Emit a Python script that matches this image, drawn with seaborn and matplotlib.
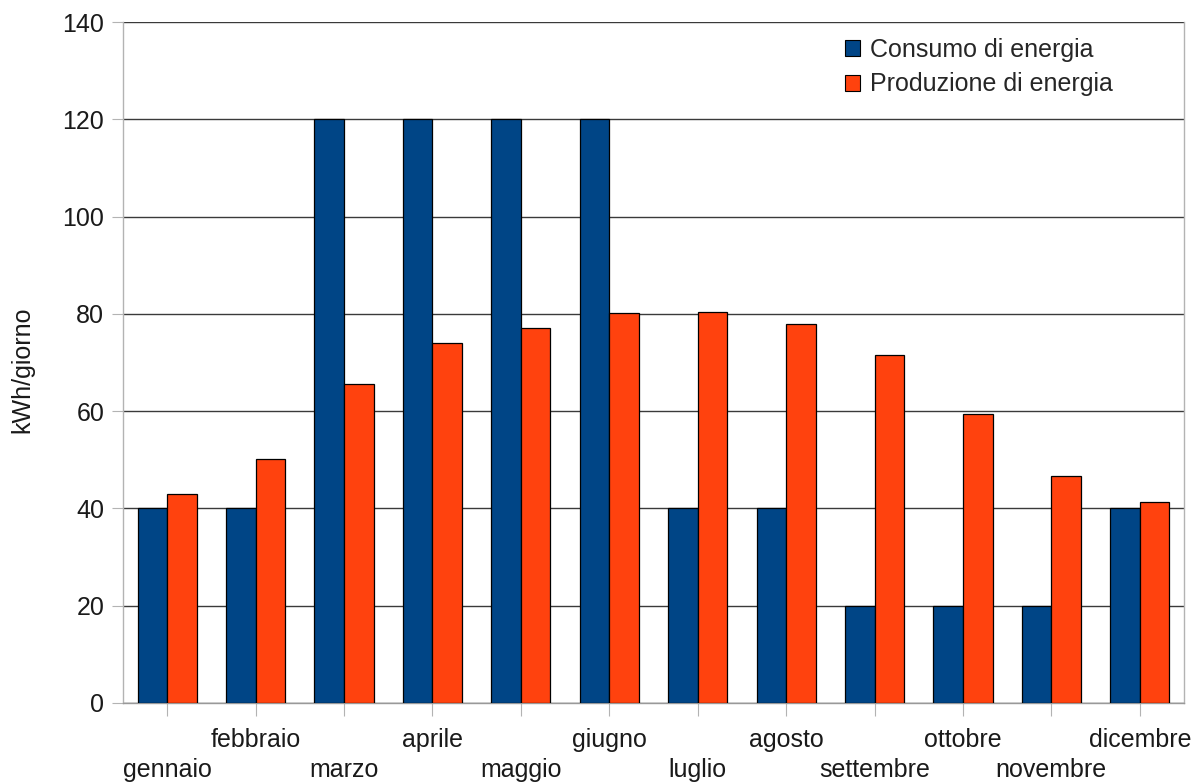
import matplotlib
matplotlib.use("Agg")
import matplotlib.pyplot as plt
import pandas as pd
import seaborn as sns

mesi = ["gennaio", "febbraio", "marzo", "aprile", "maggio", "giugno",
        "luglio", "agosto", "settembre", "ottobre", "novembre", "dicembre"]
consumo = [40, 40, 120, 120, 120, 120, 40, 40, 20, 20, 20, 40]
produzione = [43.0, 50.1, 65.5, 74.1, 77.0, 80.2, 80.4, 78.0, 71.6, 59.5, 46.6, 41.4]
serie = ["Consumo di energia", "Produzione di energia"]
colori = ["#004586", "#ff420e"]
y_ticks = [0, 20, 40, 60, 80, 100, 120, 140]

df = pd.DataFrame({
    "mese": mesi * 2,
    "valore": consumo + produzione,
    "serie": [serie[0]] * len(mesi) + [serie[1]] * len(mesi),
})

sns.set_theme(style="white")
plt.rcParams["font.family"] = ["Liberation Sans", "DejaVu Sans"]
FS = 18
TXT = "#1a1a1a"

fig = plt.figure(figsize=(11.96, 7.82), dpi=100)
ax = fig.add_axes([123 / 1196, 1 - 703 / 782, (1184 - 123) / 1196, (703 - 22) / 782])

sns.barplot(data=df, x="mese", y="valore", hue="serie", order=mesi,
            hue_order=serie, palette=colori, width=0.67, saturation=1,
            edgecolor="black", linewidth=0.9, ax=ax, zorder=3)

ax.set_xlim(-0.5, len(mesi) - 0.5)
ax.set_ylim(0, 140)
ax.set_yticks(y_ticks)
ax.set_yticklabels([str(v) for v in y_ticks], fontsize=FS, color=TXT)
ax.yaxis.grid(True, color="#3a3a3a", linewidth=1.0, zorder=1)
ax.xaxis.grid(False)
ax.set_axisbelow(True)

# month names on two staggered rows
ax.set_xticks(range(len(mesi)))
ax.set_xticklabels([])
for i, m in enumerate(mesi):
    y_off = -0.065 if i % 2 == 1 else -0.108
    ax.text(i, y_off, m, transform=ax.get_xaxis_transform(), ha="center",
            va="baseline", fontsize=FS, color=TXT)

ax.tick_params(axis="x", direction="out", length=9, width=0.8, color="#b3b3b3", bottom=True)
ax.tick_params(axis="y", direction="out", length=8, width=0.8, color="#b3b3b3", left=True, pad=5.5)

ax.spines["top"].set_visible(False)
for s in ["left", "right"]:
    ax.spines[s].set_color("#b3b3b3")
    ax.spines[s].set_linewidth(1.0)
ax.spines["bottom"].set_color("#999999")
ax.spines["bottom"].set_linewidth(1.0)

ax.set_xlabel("")
ax.set_ylabel("kWh/giorno", fontsize=FS, color=TXT)
ax.yaxis.label.set_va("center")
ax.yaxis.set_label_coords(-0.095, 0.49)

leg = ax.legend(loc="upper right", bbox_to_anchor=(0.952, 1.006), frameon=False,
                fontsize=FS, handlelength=0.6, handleheight=0.6,
                handletextpad=0.4, labelspacing=0.42, borderpad=0.3)
for h in leg.legend_handles:
    h.set_edgecolor("black")
    h.set_linewidth(0.8)

fig.savefig("out.png", dpi=100)
